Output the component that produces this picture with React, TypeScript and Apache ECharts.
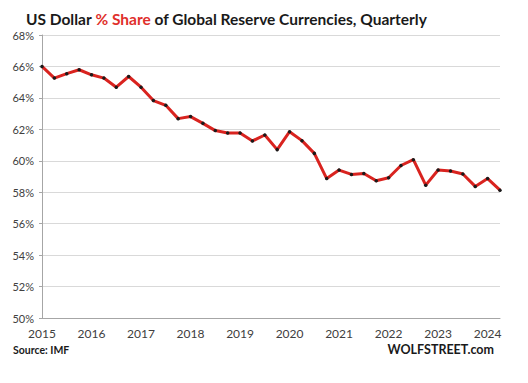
import React, { useEffect, useRef } from "react";
import * as echarts from "echarts";

const quarters: string[] = [];
for (let y = 2015; y <= 2024; y++) {
  for (let q = 1; q <= 4; q++) {
    if (y === 2024 && q > 2) break;
    quarters.push(`${y} Q${q}`);
  }
}

const usdShare = [
  66.0, 65.26, 65.54, 65.79, 65.47, 65.26, 64.68, 65.36, 64.68, 63.83,
  63.53, 62.68, 62.81, 62.38, 61.92, 61.77, 61.77, 61.26, 61.64, 60.71,
  61.85, 61.28, 60.47, 58.87, 59.41, 59.13, 59.19, 58.73, 58.92, 59.7,
  60.07, 58.45, 59.41, 59.35, 59.16, 58.37, 58.87, 58.13,
];

const yMin = 50;
const yMax = 68;
const yStep = 2;

const FONT = "Lato";

export default function App() {
  const ref = useRef<HTMLDivElement>(null);
  useEffect(() => {
    if (!ref.current) return;
    const chart = echarts.init(ref.current, null, { renderer: "svg" });
    chart.setOption({
      animation: false,
      backgroundColor: "#ffffff",
      title: {
        text: "{b|US Dollar }{r|% Share}{b| of Global Reserve Currencies, Quarterly}",
        left: 21,
        top: 6,
        textStyle: {
          rich: {
            b: { fontFamily: FONT, fontWeight: "bold", fontSize: 15.5, color: "#1a1a1a" },
            r: { fontFamily: FONT, fontWeight: "bold", fontSize: 15.5, color: "#e0302b" },
          },
        },
      },
      graphic: [
        {
          type: "text",
          left: 13,
          top: 344,
          style: { text: "Source: IMF", font: `bold 10.5px ${FONT}`, fill: "#1a1a1a" },
        },
        {
          type: "text",
          right: 34,
          top: 343,
          style: { text: "WOLFSTREET.com", font: `bold 12.5px ${FONT}`, fill: "#1a1a1a" },
        },
      ],
      grid: { left: 42, right: 28, top: 35, bottom: 65, containLabel: false },
      xAxis: {
        type: "category",
        data: quarters,
        boundaryGap: false,
        axisLine: { show: true, lineStyle: { color: "#a6a6a6", width: 1 } },
        axisTick: { show: false },
        axisLabel: {
          interval: 3,
          formatter: (v: string) => v.slice(0, 4),
          fontFamily: FONT,
          fontSize: 12,
          color: "#404040",
          margin: 9,
        },
        splitLine: { show: false },
      },
      yAxis: {
        type: "value",
        min: yMin,
        max: yMax,
        interval: yStep,
        axisLine: { show: true, lineStyle: { color: "#a6a6a6", width: 1 } },
        axisTick: { show: true, length: 3, lineStyle: { color: "#a6a6a6" } },
        axisLabel: {
          formatter: "{value}%",
          fontFamily: FONT,
          fontSize: 11,
          color: "#404040",
          margin: 8,
        },
        splitLine: { show: true, lineStyle: { color: "#d9d9d9", width: 1 } },
      },
      series: [
        {
          type: "line",
          data: usdShare,
          lineStyle: { color: "#d9231f", width: 3 },
          symbol: "circle",
          symbolSize: 3.5,
          itemStyle: { color: "#1a1a1a", borderWidth: 0 },
          z: 3,
        },
      ],
    });
    return () => chart.dispose();
  }, []);
  return <div ref={ref} style={{ width: 528, height: 383, margin: -8 }} />;
}
